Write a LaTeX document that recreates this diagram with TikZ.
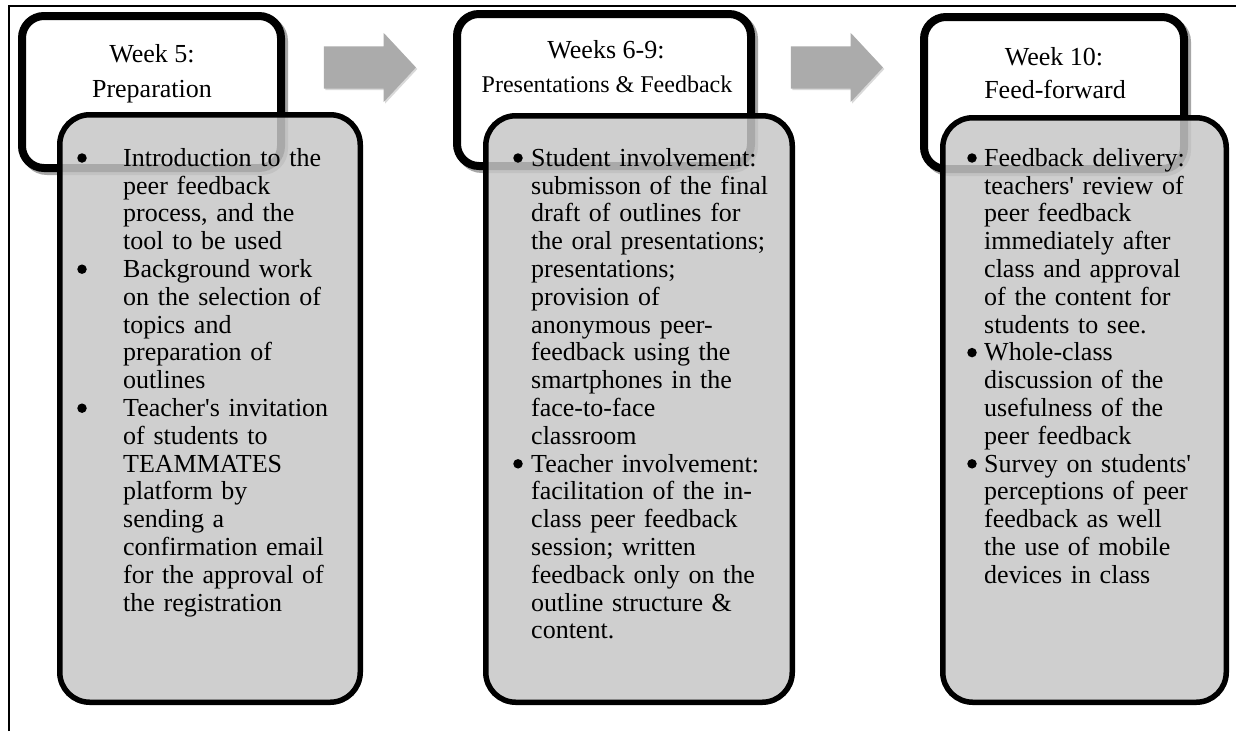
\documentclass[tikz,border=0pt]{standalone}
\usepackage{fontspec}
\setmainfont{Liberation Serif}
\usetikzlibrary{shapes.arrows,shadows}

\begin{document}
\begin{tikzpicture}[x=1pt, y=-1pt,
hdr/.style={draw, line width=8pt, rounded corners=22pt, fill=white, drop shadow={shadow xshift=3pt, shadow yshift=-3pt, fill=none, draw=black, line width=8pt, opacity=0.35}},
body/.style={draw, line width=5.5pt, rounded corners=30pt, fill=black!22, fill opacity=0.85},
stp/.style={single arrow, draw=none, fill=black!33, inner xsep=0pt, inner ysep=21pt, minimum height=92pt, minimum width=69pt, single arrow head extend=13.5pt, single arrow tip angle=94, drop shadow={shadow xshift=1.5pt, shadow yshift=-1.5pt, opacity=0.3}},
ttl/.style={anchor=base, inner sep=0pt, font=\fontsize{26}{30}\selectfont},
blt/.style={circle, fill, inner sep=0pt, minimum size=9.5pt},
item/.style={anchor=north west, inner sep=0pt, text width=250pt, align=left, font=\fontsize{26}{27.8}\selectfont}]
\useasboundingbox (0,0) rectangle (1236,731);
\draw[line width=2pt] (9,731) -- (9,6) -- (1236,6);

\node[hdr, minimum width=259pt, minimum height=152pt] (hdrA) at (151.5,92) {};
\node[hdr, minimum width=294pt, minimum height=152pt] (hdrB) at (604,90) {};
\node[hdr, minimum width=260pt, minimum height=152pt] (hdrC) at (1054,93) {};
\node[body, minimum width=300.5pt, minimum height=587.5pt] (bodyA) at (210,408.5) {};
\node[body, minimum width=306.5pt, minimum height=586.5pt] (bodyB) at (639,409) {};
\node[body, minimum width=283.5pt, minimum height=584.5pt] (bodyC) at (1084.5,410) {};
\node[stp] (stpA) at (360,67.5) {};
\node[stp] (stpB) at (827,67.5) {};

\node[ttl] (ttlA) at (152,62) {Week 5:};
\node[ttl] (subA) at (152,97) {Preparation};
\node[ttl] (ttlB) at (606,58) {Weeks 6-9:};
\node[ttl, font=\fontsize{24}{28}\selectfont] (subB) at (607,92) {Presentations \& Feedback};
\node[ttl] (ttlC) at (1054,65) {Week 10:};
\node[ttl] (subC) at (1055,98) {Feed-forward};

\node[blt] (bltA1) at (82,158) {};
\node[blt] (bltA2) at (82,269.2) {};
\node[blt] (bltA3) at (82,408.2) {};
\node[item] (itemA1) at (123,146.54) {\strut Introduction to the\\peer feedback\\process, and the\\tool to be used};
\node[item] (itemA2) at (123,257.74) {\strut Background work\\on the selection of\\topics and\\preparation of\\outlines};
\node[item] (itemA3) at (123,396.74) {\strut Teacher\textquotesingle s invitation\\of students to\\TEAMMATES\\platform by\\sending a\\confirmation email\\for the approval of\\the registration};

\node[blt] (bltB1) at (518,158) {};
\node[blt] (bltB2) at (518,463.8) {};
\node[item] (itemB1) at (531,146.54) {\strut Student involvement:\\submisson of the final\\draft of outlines for\\the oral presentations;\\presentations;\\provision of\\anonymous peer-\\feedback using the\\smartphones in the\\face-to-face\\classroom};
\node[item] (itemB2) at (531,452.34) {\strut Teacher involvement:\\facilitation of the in-\\class peer feedback\\session; written\\feedback only on the\\outline structure \&\\content.};

\node[blt] (bltC1) at (972,158) {};
\node[blt] (bltC2) at (972,352.6) {};
\node[blt] (bltC3) at (972,463.8) {};
\node[item] (itemC1) at (984,146.54) {\strut Feedback delivery:\\teachers\textquotesingle\ review of\\peer feedback\\immediately after\\class and approval\\of the content for\\students to see.};
\node[item] (itemC2) at (984,341.14) {\strut Whole-class\\discussion of the\\usefulness of the\\peer feedback};
\node[item] (itemC3) at (984,452.34) {\strut Survey on students\textquotesingle\\perceptions of peer\\feedback as well\\the use of mobile\\devices in class};
\end{tikzpicture}
\end{document}
